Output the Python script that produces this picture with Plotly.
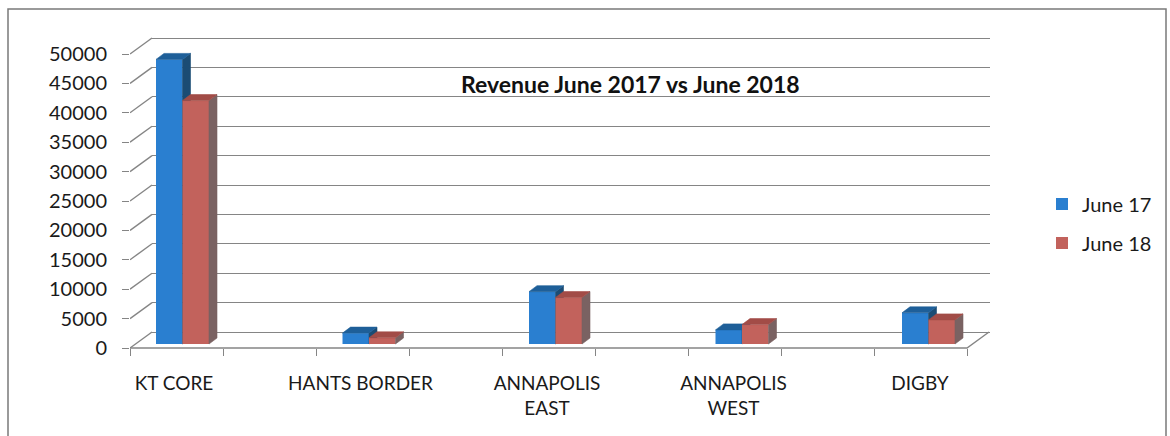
import plotly.graph_objects as go

# ---- data -------------------------------------------------------------
categories = ["KT CORE", "HANTS BORDER", "ANNAPOLIS<br>EAST", "ANNAPOLIS<br>WEST", "DIGBY"]
june17 = [48400, 1850, 8900, 2400, 5300]
june18 = [41400, 1050, 7900, 3300, 4100]
y_ticks = list(range(0, 50001, 5000))
series_names = ["June 17", "June 18"]

# ---- geometry of the pseudo-3D frame (pixels) -------------------------
W, H = 1170, 436
K = 294 / 50000            # pixels per revenue unit
CAT_PX = 186.5             # pixels per category
CAT0_PX = 182.5            # x pixel of first category centre (bar plane)
FRONT_LEFT, FRONT_RIGHT, RIGHT = 130, 967, 990
BACK_LEFT = 152
FLOOR_FRONT, BAR_FLOOR, BACK_FLOOR = 348, 344, 332
DEPTH_X, DEPTH_Y = 22, 16  # wall depth offset
BAR_DX, BAR_DY = 8, 6      # bar depth offset
BAR_W = 26.5               # bar width in pixels

def xu(px):
    return (px - CAT0_PX) / CAT_PX

x0, x1 = xu(FRONT_LEFT), xu(RIGHT)
xr_front = xu(FRONT_RIGHT)
bw = BAR_W / CAT_PX
bdx, bdy = BAR_DX / CAT_PX, BAR_DY / K
ddx, ddy = DEPTH_X / CAT_PX, DEPTH_Y / K

FONT = "Lato, 'Open Sans', sans-serif"
GRID = "#858585"

fig = go.Figure()

# back wall (main subplot, drawn first): gridlines only
fig.add_trace(go.Scatter(x=[0], y=[0], xaxis="x", yaxis="y", mode="markers",
                         marker=dict(opacity=0), showlegend=False, hoverinfo="skip"))

# side wall diagonals, floor outline
sx, sy = [], []
for v in y_ticks:
    sx += [x0, x0 + ddx, None]
    sy += [v, v + ddy, None]
sx += [x0, xr_front, xr_front + ddx, None]
sy += [0, 0, ddy, None]
fig.add_trace(go.Scatter(x=sx, y=sy, xaxis="x2", yaxis="y2", mode="lines",
                         line=dict(color=GRID, width=1.4), showlegend=False,
                         hoverinfo="skip"))
# invisible trace so the tick-mark axis is drawn
fig.add_trace(go.Scatter(x=[0], y=[0], xaxis="x3", yaxis="y2", mode="markers",
                         marker=dict(opacity=0), showlegend=False, hoverinfo="skip"))

styles = [
    dict(front="#2a7fd0", top="#1e5f99", side="#1b4c74", yaxis="y3", offset=-bw,
         legend="legend"),
    dict(front="#c2625c", top="#a24c47", side="#7a6262", yaxis="y4", offset=0.0,
         legend="legend2"),
]
xs = list(range(len(categories)))
labels = [c.replace("<br>", " ") for c in categories]

for name, vals, st in zip(series_names, [june17, june18], styles):
    fig.add_trace(go.Bar(
        x=xs, y=vals, name=name, xaxis="x2", yaxis=st["yaxis"],
        offset=st["offset"], width=bw,
        marker=dict(color=st["front"], line=dict(width=0)),
        legend=st["legend"], customdata=labels,
        hovertemplate="%{customdata}<br>" + name + ": %{y}<extra></extra>"))
    # top and side faces of each column
    tx, ty, px_, py_ = [], [], [], []
    for i, v in enumerate(vals):
        xl = i + st["offset"]
        xr = xl + bw
        tx += [xl, xl + bdx, xr + bdx, xr, xl, None]
        ty += [v, v + bdy, v + bdy, v, v, None]
        px_ += [xr, xr + bdx, xr + bdx, xr, xr, None]
        py_ += [0, bdy, v + bdy, v, 0, None]
    fig.add_trace(go.Scatter(x=px_, y=py_, xaxis="x2", yaxis=st["yaxis"],
                             mode="lines", fill="toself", fillcolor=st["side"],
                             line=dict(width=0.6, color=st["side"]),
                             showlegend=False, hoverinfo="skip"))
    fig.add_trace(go.Scatter(x=tx, y=ty, xaxis="x2", yaxis=st["yaxis"],
                             mode="lines", fill="toself", fillcolor=st["top"],
                             line=dict(width=0.6, color=st["top"]),
                             showlegend=False, hoverinfo="skip"))

tick_marks = [x0 + k * 93 / CAT_PX for k in range(10)]
label_pos = [i - 8.5 / CAT_PX for i in xs]

hidden = dict(showgrid=False, showticklabels=False, ticks="", showline=False,
              zeroline=False)

fig.update_layout(
    width=W, height=H, margin=dict(l=0, r=0, t=0, b=0),
    paper_bgcolor="white", plot_bgcolor="rgba(0,0,0,0)",
    font=dict(family=FONT, color="#1a1a1a"),
    xaxis=dict(domain=[BACK_LEFT / W, RIGHT / W], range=[0, 1], anchor="y", **hidden),
    yaxis=dict(domain=[0, 1], range=[(BACK_FLOOR - H) / K, BACK_FLOOR / K],
               anchor="x", tickvals=y_ticks, showgrid=True, gridcolor=GRID,
               gridwidth=1.4, showticklabels=False, ticks="", showline=False,
               zeroline=False),
    xaxis2=dict(domain=[FRONT_LEFT / W, RIGHT / W], range=[x0, x1], anchor="free",
                position=(H - FLOOR_FRONT) / H, tickvals=label_pos,
                ticktext=categories, ticks="", showgrid=False, showline=False,
                zeroline=False, ticklabelstandoff=22,
                tickfont=dict(size=19, family=FONT, color="#1a1a1a")),
    xaxis3=dict(overlaying="x2", range=[x0, x1], anchor="free",
                position=(H - FLOOR_FRONT) / H, tickvals=tick_marks,
                ticks="outside", ticklen=7, tickcolor=GRID, tickwidth=1.4,
                showticklabels=False, showgrid=False, showline=False, zeroline=False),
    yaxis2=dict(domain=[0, 1], range=[(FLOOR_FRONT - H) / K, FLOOR_FRONT / K],
                anchor="x2", tickvals=y_ticks, ticktext=[str(v) for v in y_ticks],
                ticks="outside", ticklen=7, tickcolor=GRID, tickwidth=1.4,
                showgrid=False, showline=False, zeroline=False, ticklabelstandoff=11,
                tickfont=dict(size=20, family=FONT, color="#1a1a1a")),
    yaxis3=dict(overlaying="y2", range=[(BAR_FLOOR - H) / K, BAR_FLOOR / K],
                anchor="x2", **hidden),
    yaxis4=dict(overlaying="y2", range=[(BAR_FLOOR - H) / K, BAR_FLOOR / K],
                anchor="x2", **hidden),
    legend=dict(x=1042 / W, y=1 - 204 / H, xanchor="left", yanchor="middle",
                font=dict(size=20, family=FONT, color="#1a1a1a"),
                bgcolor="rgba(0,0,0,0)"),
    legend2=dict(x=1042 / W, y=1 - 243 / H, xanchor="left", yanchor="middle",
                 font=dict(size=20, family=FONT, color="#1a1a1a"),
                 bgcolor="rgba(0,0,0,0)"),
    annotations=[dict(text="<b>Revenue June 2017 vs June 2018</b>", x=630 / W,
                      y=1 - 84 / H, xref="paper", yref="paper", showarrow=False,
                      xanchor="center", yanchor="middle",
                      font=dict(size=23, family=FONT, color="#111"))],
    shapes=[dict(type="rect", xref="paper", yref="paper", x0=8 / W, x1=1166 / W,
                 y0=-0.05, y1=1 - 9 / H, line=dict(color="#7a7a7a", width=1.5),
                 layer="below")],
    showlegend=True,
)

fig.write_html("out.html")
